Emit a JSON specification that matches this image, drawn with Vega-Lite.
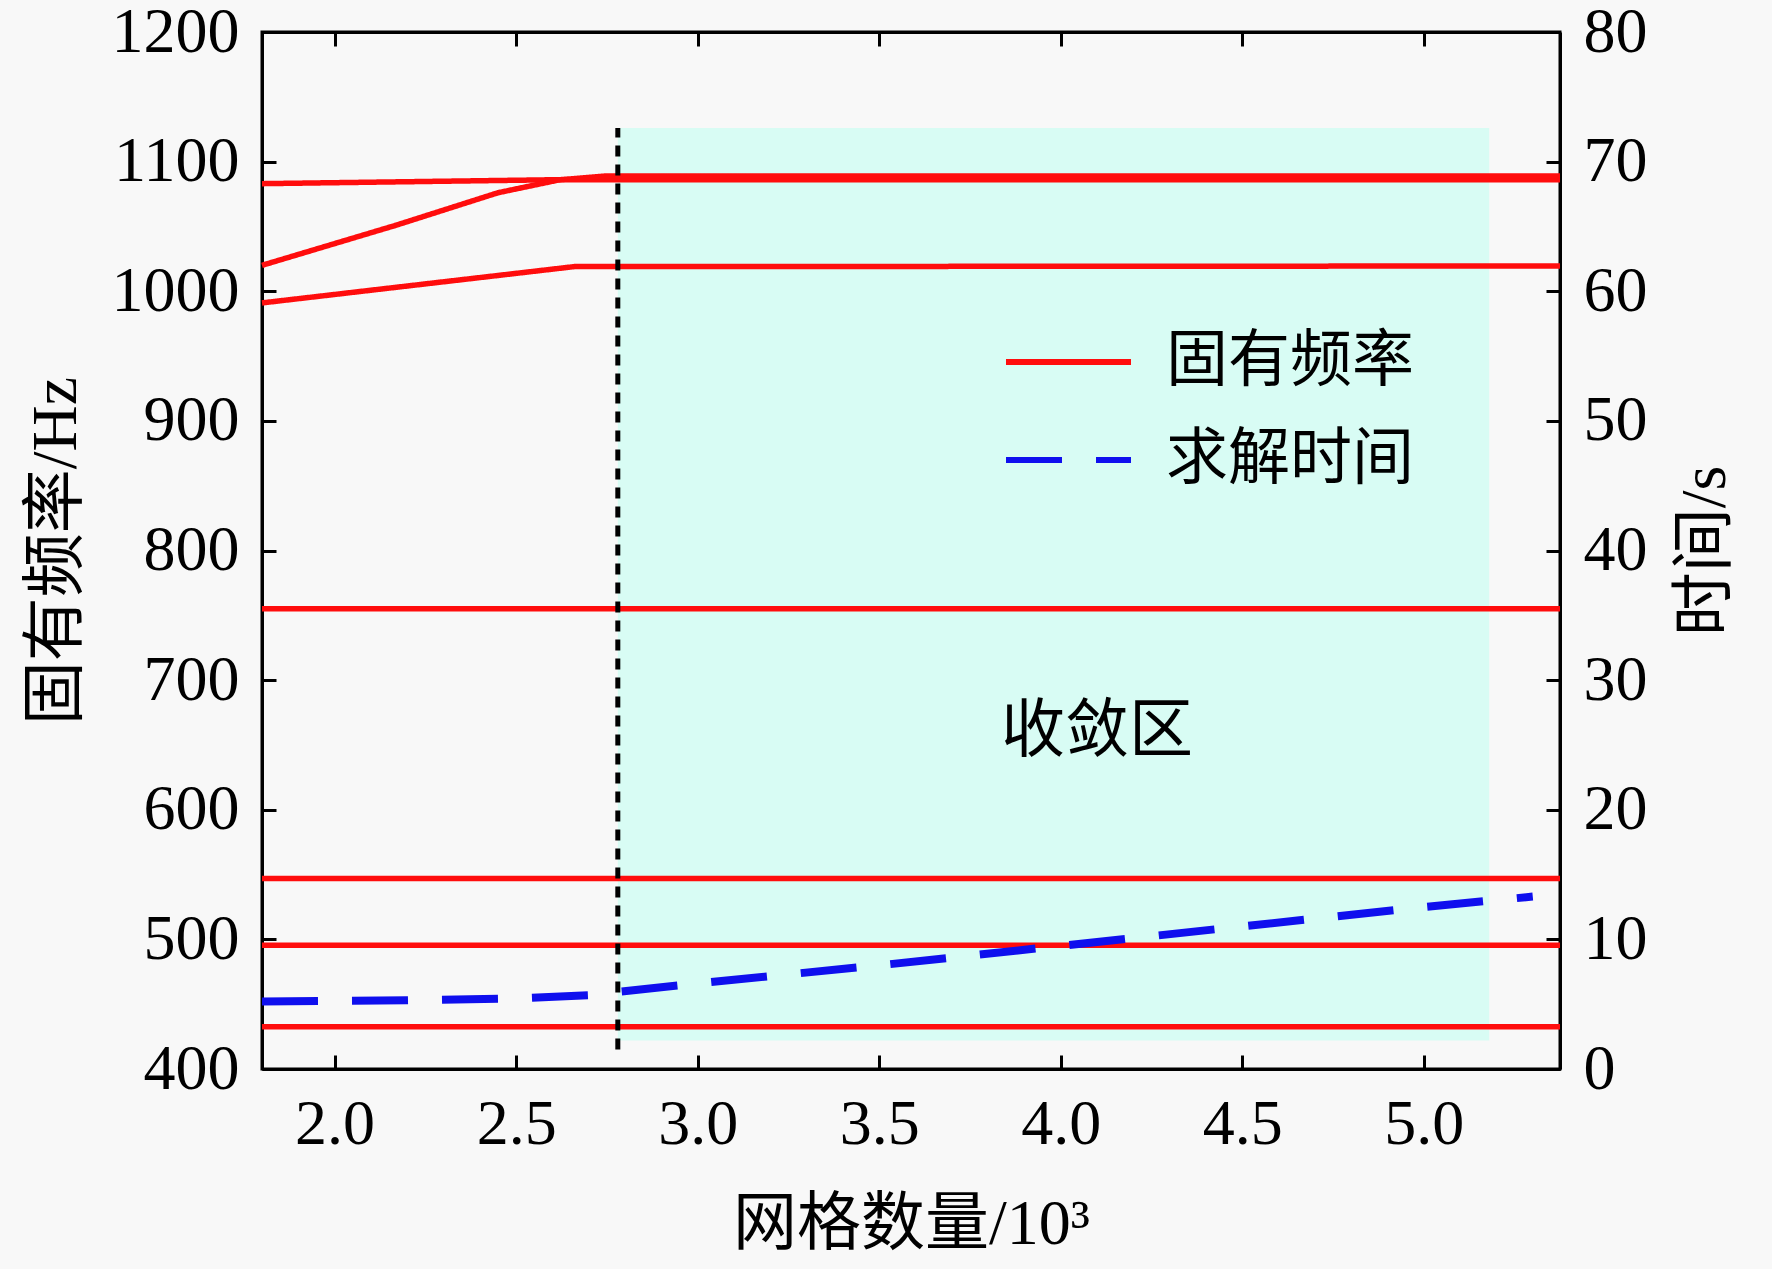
{
  "$schema": "https://vega.github.io/schema/vega-lite/v6.json",
  "autosize": {"type": "none"},
  "padding": {"left": 262, "top": 32, "right": 212, "bottom": 200},
  "width": 1298,
  "height": 1037,
  "background": "#f8f8f8",
  "config": {
    "view": {"stroke": "black", "strokeWidth": 3, "fill": "#f8f8f8"},
    "axis": {
      "grid": false,
      "domainColor": "black",
      "domainWidth": 3,
      "tickColor": "black",
      "tickWidth": 3,
      "tickSize": -14,
      "labelFont": "Liberation Serif",
      "labelFontSize": 64,
      "labelColor": "black",
      "labelPadding": 37,
      "labelFlush": false,
      "labelOverlap": false,
      "titleFont": "Liberation Serif, Noto Sans CJK SC",
      "titleFontSize": 64,
      "titleFontWeight": "normal",
      "titleColor": "black"
    },
    "legend": {
      "labelFont": "Liberation Serif, Noto Sans CJK SC",
      "labelFontSize": 62,
      "labelColor": "black",
      "labelLimit": 0
    }
  },
  "datasets": {
    "region": [{"start": 2.78, "end": 5.18, "low": 422, "high": 1126}],
    "freq": [
      {"series": "固有频率", "mode": "A", "mesh": 1.8, "freq": 1083},
      {"series": "固有频率", "mode": "A", "mesh": 2.2, "freq": 1084.5},
      {"series": "固有频率", "mode": "A", "mesh": 2.6, "freq": 1086},
      {"series": "固有频率", "mode": "A", "mesh": 5.375, "freq": 1086},
      {"series": "固有频率", "mode": "B", "mesh": 1.8, "freq": 1020},
      {"series": "固有频率", "mode": "B", "mesh": 2.17, "freq": 1051},
      {"series": "固有频率", "mode": "B", "mesh": 2.45, "freq": 1076},
      {"series": "固有频率", "mode": "B", "mesh": 2.62, "freq": 1086},
      {"series": "固有频率", "mode": "B", "mesh": 2.75, "freq": 1089},
      {"series": "固有频率", "mode": "B", "mesh": 5.375, "freq": 1089},
      {"series": "固有频率", "mode": "C", "mesh": 1.8, "freq": 991},
      {"series": "固有频率", "mode": "C", "mesh": 2.26, "freq": 1006},
      {"series": "固有频率", "mode": "C", "mesh": 2.66, "freq": 1019},
      {"series": "固有频率", "mode": "C", "mesh": 5.375, "freq": 1019.5},
      {"series": "固有频率", "mode": "D", "mesh": 1.8, "freq": 755},
      {"series": "固有频率", "mode": "D", "mesh": 5.375, "freq": 755},
      {"series": "固有频率", "mode": "E", "mesh": 1.8, "freq": 547},
      {"series": "固有频率", "mode": "E", "mesh": 5.375, "freq": 547},
      {"series": "固有频率", "mode": "F", "mesh": 1.8, "freq": 495.5},
      {"series": "固有频率", "mode": "F", "mesh": 5.375, "freq": 495.5},
      {"series": "固有频率", "mode": "G", "mesh": 1.8, "freq": 432.5},
      {"series": "固有频率", "mode": "G", "mesh": 5.375, "freq": 432.5}
    ],
    "time": [
      {"series": "求解时间", "mesh": 1.8, "time": 5.2},
      {"series": "求解时间", "mesh": 2.2, "time": 5.3},
      {"series": "求解时间", "mesh": 2.5, "time": 5.45},
      {"series": "求解时间", "mesh": 2.7, "time": 5.7},
      {"series": "求解时间", "mesh": 2.78, "time": 5.95},
      {"series": "求解时间", "mesh": 3.0, "time": 6.6},
      {"series": "求解时间", "mesh": 3.5, "time": 8.0},
      {"series": "求解时间", "mesh": 4.0, "time": 9.5},
      {"series": "求解时间", "mesh": 4.5, "time": 11.0},
      {"series": "求解时间", "mesh": 5.0, "time": 12.5},
      {"series": "求解时间", "mesh": 5.3, "time": 13.3}
    ]
  },
  "layer": [
    {
      "layer": [
        {
          "data": {"name": "region"},
          "mark": {"type": "rect", "color": "#d8fcf4"},
          "encoding": {
            "x": {
              "field": "start",
              "type": "quantitative",
              "scale": {"domain": [1.8, 5.375], "nice": false, "zero": false},
              "axis": {
                "orient": "bottom",
                "values": [2.0, 2.5, 3.0, 3.5, 4.0, 4.5, 5.0],
                "format": ".1f",
                "title": "网格数量/10³",
                "titlePadding": 36
              }
            },
            "x2": {"field": "end"},
            "y": {
              "field": "low",
              "type": "quantitative",
              "scale": {"domain": [400, 1200], "nice": false, "zero": false},
              "axis": {
                "values": [400, 500, 600, 700, 800, 900, 1000, 1100, 1200],
                "format": "d",
                "title": "固有频率/Hz",
                "titlePadding": 23
              }
            },
            "y2": {"field": "high"}
          }
        },
        {
          "data": {"name": "freq"},
          "mark": {"type": "line", "strokeWidth": 5.5},
          "encoding": {
            "x": {"field": "mesh", "type": "quantitative", "title": "网格数量/10³"},
            "y": {"field": "freq", "type": "quantitative", "title": "固有频率/Hz"},
            "detail": {"field": "mode"},
            "color": {
              "field": "series",
              "type": "nominal",
              "scale": {"domain": ["固有频率", "求解时间"], "range": ["#ff0d0d", "#0f0fee"]},
              "legend": {
                "title": null,
                "orient": "none",
                "legendX": 741,
                "legendY": 298,
                "padding": 0,
                "symbolType": "stroke",
                "symbolSize": 15625,
                "symbolStrokeWidth": 6,
                "labelOffset": 32,
                "labelLimit": 0,
                "clipHeight": 64,
                "rowPadding": 34
              }
            },
            "strokeDash": {
              "field": "series",
              "type": "nominal",
              "scale": {"domain": ["固有频率", "求解时间"], "range": [[1, 0], [56, 34]]},
              "legend": {
                "title": null,
                "orient": "none",
                "legendX": 741,
                "legendY": 298,
                "padding": 0,
                "symbolType": "stroke",
                "symbolSize": 15625,
                "symbolStrokeWidth": 6,
                "labelOffset": 32,
                "labelLimit": 0,
                "clipHeight": 64,
                "rowPadding": 34
              }
            }
          }
        },
        {
          "data": {"values": [{}]},
          "mark": {"type": "rule", "color": "black", "strokeWidth": 5, "strokeDash": [11, 8]},
          "encoding": {
            "x": {"datum": 2.78},
            "y": {"datum": 415},
            "y2": {"datum": 1126}
          }
        },
        {
          "data": {"values": [{}]},
          "mark": {
            "type": "text",
            "font": "Noto Sans CJK SC",
            "fontSize": 64,
            "color": "black",
            "align": "center",
            "baseline": "middle"
          },
          "encoding": {
            "x": {"datum": 4.1},
            "y": {"datum": 660},
            "text": {"value": "收敛区"}
          }
        }
      ]
    },
    {
      "data": {"name": "time"},
      "mark": {"type": "line", "strokeWidth": 8},
      "encoding": {
        "x": {
          "field": "mesh",
          "type": "quantitative",
          "axis": {
            "orient": "top",
            "values": [2.0, 2.5, 3.0, 3.5, 4.0, 4.5, 5.0],
            "labels": false,
            "title": null
          }
        },
        "y": {
          "field": "time",
          "type": "quantitative",
          "scale": {"domain": [0, 80], "nice": false, "zero": false},
          "axis": {
            "orient": "right",
            "values": [0, 10, 20, 30, 40, 50, 60, 70, 80],
            "title": "时间/s",
            "titleAngle": 270,
            "titleBaseline": "top",
            "titlePadding": 26
          }
        },
        "color": {"field": "series", "type": "nominal"},
        "strokeDash": {"field": "series", "type": "nominal"}
      }
    }
  ],
  "resolve": {
    "scale": {"y": "independent"},
    "axis": {"x": "independent"}
  }
}
